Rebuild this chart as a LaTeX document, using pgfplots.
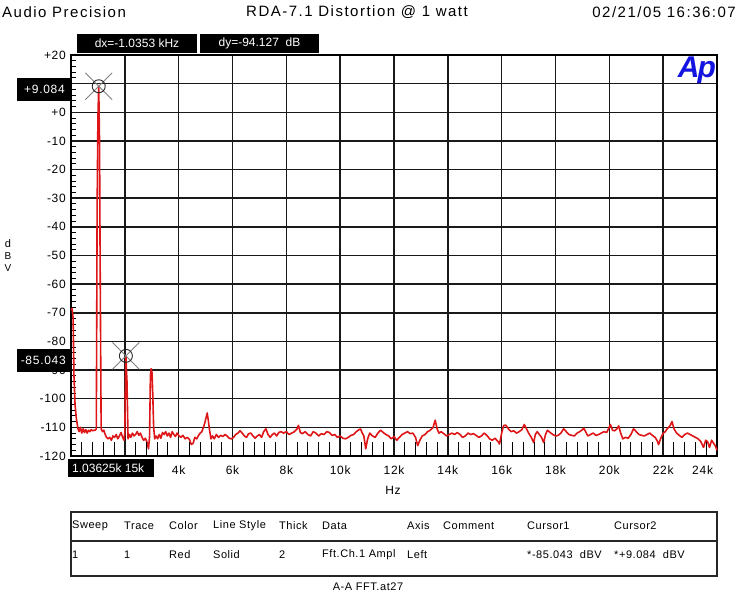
\documentclass[border=0pt]{standalone}
\usepackage{fontspec}
\setmainfont{Liberation Sans}
\newfontfamily\hdrfont[LetterSpace=10]{Liberation Sans}
\newfontfamily\tickfam[LetterSpace=6]{Liberation Sans}
\newfontfamily\tblfont[LetterSpace=5]{Liberation Sans}
\usepackage{pgfplots}
\pgfplotsset{compat=1.18}
\definecolor{trace}{RGB}{222,22,24}
\definecolor{apblue}{RGB}{20,20,225}

\pgfplotstableread{
f dbv
0 -69
0.04 -68.5
0.08 -72
0.11 -92
0.15 -102
0.2 -107
0.26 -110.5
0.3 -111.5
0.35 -110
0.4 -112
0.45 -110.5
0.5 -111.8
0.55 -110.8
0.6 -112
0.65 -111
0.7 -111.5
0.75 -110.8
0.8 -111.2
0.85 -111
0.9 -111
0.94 -110.5
0.955 -75
0.97 -34
1.0 -2
1.03 9.084
1.06 -10
1.08 -48
1.10 -80
1.12 -110.5
1.17 -111.5
1.22 -111
1.27 -112.5
1.32 -113.5
1.38 -114
1.44 -113.5
1.5 -114.5
1.56 -113
1.62 -113.5
1.68 -112.5
1.74 -114
1.8 -113
1.86 -111.8
1.92 -113.5
1.97 -114.5
2.0 -112
2.02 -95
2.04 -85.043
2.06 -90
2.08 -94
2.10 -104
2.12 -114
2.17 -112.5
2.22 -113.5
2.28 -112
2.34 -113
2.4 -112.5
2.46 -111.5
2.52 -112.8
2.58 -112
2.64 -113.5
2.7 -114.5
2.76 -113.8
2.82 -115
2.88 -117.5
2.92 -113
2.95 -92
2.98 -89.5
3.01 -91
3.04 -99
3.07 -110
3.11 -114
3.16 -113
3.22 -114
3.28 -112.5
3.34 -113.8
3.4 -111.8
3.46 -112.5
3.52 -111.5
3.58 -113
3.64 -112
3.7 -113.5
3.76 -111.5
3.82 -112.5
3.88 -113.2
3.94 -112
4.0 -112.8
4.08 -113.5
4.16 -112.8
4.24 -114
4.32 -113.5
4.4 -114.2
4.47 -116
4.54 -115.5
4.6 -113.5
4.67 -114
4.74 -112.8
4.8 -112
4.86 -111.5
4.92 -110
4.97 -108.5
5.02 -106.5
5.06 -105
5.1 -107.5
5.14 -110.5
5.2 -114
5.26 -113
5.32 -114
5.4 -112.5
5.48 -113.5
5.56 -112.8
5.64 -113.2
5.72 -112.5
5.8 -113
5.88 -113.8
5.96 -114
6.04 -113.5
6.12 -112.5
6.2 -112
6.28 -111.2
6.36 -112
6.44 -113
6.52 -113.5
6.6 -112.2
6.68 -112
6.76 -113
6.84 -113.8
6.92 -113
7.0 -112.5
7.08 -113.5
7.16 -111.5
7.24 -110.5
7.32 -112.5
7.4 -113.5
7.48 -112.5
7.56 -112
7.64 -113
7.72 -111.8
7.8 -111.5
7.9 -112
8.0 -111.5
8.1 -112.5
8.2 -112
8.3 -111.5
8.4 -110.5
8.45 -109.3
8.52 -111.8
8.6 -112.2
8.7 -111.5
8.8 -112.5
8.9 -113
9.0 -111.5
9.1 -112
9.2 -113
9.3 -112.2
9.4 -112.5
9.5 -111.5
9.6 -111.8
9.7 -112.8
9.8 -112.5
9.9 -113.5
10.0 -113
10.1 -113.8
10.2 -114
10.3 -113.5
10.4 -112.8
10.5 -112.5
10.6 -111.5
10.7 -110.8
10.76 -110.6
10.82 -112
10.88 -113
10.95 -117.5
11.02 -114
11.1 -112
11.2 -113
11.3 -113.5
11.4 -112
11.5 -111
11.6 -111.8
11.7 -112.5
11.8 -113
11.9 -114
12.0 -113.2
12.1 -114.5
12.2 -113.5
12.3 -112.5
12.4 -112
12.5 -111.5
12.6 -112.2
12.7 -112
12.8 -113.5
12.88 -116.4
12.96 -114.5
13.05 -113
13.15 -112.5
13.25 -111.5
13.35 -111
13.45 -110
13.53 -107.5
13.6 -110.5
13.67 -112
13.75 -111.5
13.85 -112.2
13.95 -113
14.05 -112.5
14.15 -112
14.25 -112.5
14.35 -111.8
14.45 -112.5
14.55 -113.5
14.65 -113
14.75 -112
14.85 -112.5
14.95 -112.2
15.05 -112.8
15.15 -113.5
15.25 -113
15.35 -112
15.45 -112.8
15.55 -114
15.65 -114.5
15.75 -113.8
15.85 -114.8
15.92 -115.8
16.0 -112
16.07 -109.4
16.15 -109.2
16.25 -110.5
16.35 -111.5
16.45 -111.2
16.55 -112
16.65 -111.5
16.75 -110.8
16.84 -109
16.92 -110.5
17.0 -112
17.1 -113.5
17.19 -115.3
17.25 -112.5
17.32 -111.5
17.4 -112.5
17.48 -113.5
17.56 -115.3
17.63 -112.5
17.7 -111
17.8 -111.8
17.9 -112.5
18.0 -113
18.1 -112.8
18.2 -112
18.3 -110.5
18.4 -111.5
18.5 -112.5
18.6 -112.8
18.7 -113
18.8 -112
18.9 -111.5
19.0 -110.8
19.05 -110.3
19.12 -111.5
19.2 -113
19.3 -112.5
19.4 -112
19.5 -112.8
19.6 -112.5
19.7 -112
19.8 -111.5
19.9 -111.8
19.97 -110.5
20.04 -109
20.12 -111
20.2 -111.2
20.28 -110.5
20.35 -109.5
20.42 -112
20.5 -114
20.6 -113.5
20.7 -113.8
20.8 -112.5
20.9 -110.5
21.0 -111.5
21.1 -112.5
21.2 -112.8
21.3 -113
21.4 -112.5
21.5 -112
21.6 -112.8
21.7 -113.5
21.77 -114.5
21.83 -116
21.9 -114
22.0 -112
22.08 -111.5
22.15 -110.5
22.25 -109.5
22.33 -108
22.4 -110.5
22.5 -112
22.6 -112.8
22.7 -113.5
22.8 -112.5
22.9 -112
23.0 -112.5
23.1 -113
23.2 -113.5
23.3 -114
23.4 -115
23.5 -117
23.58 -114.5
23.65 -115
23.72 -117
23.8 -114.5
23.87 -115.5
23.94 -116.5
24.0 -118
}\fftdata

\begin{document}
\begin{tikzpicture}
\path[use as bounding box] (0pt,0pt) rectangle (738pt,600pt);

% header line
\node[anchor=west,inner sep=0pt] at (2pt,588pt) {\hdrfont\fontsize{15}{17}\selectfont Audio Precision};
\node[inner sep=0pt] at (357pt,588pt) {\hdrfont\fontsize{15}{17}\selectfont RDA-7.1 Distortion @ 1 watt};
\node[anchor=east,inner sep=0pt] at (736pt,588pt) {\hdrfont\fontsize{15}{17}\selectfont 02/21/05 16:36:07};

\begin{axis}[
  at={(71pt,144pt)}, anchor=south west, scale only axis,
  width=646pt, height=401pt,
  xmin=0, xmax=24, ymin=-120, ymax=20,
  xtick={0,2,...,24},
  xticklabels={,,4k,6k,8k,10k,12k,14k,16k,18k,20k,22k,\makebox[0pt][r]{24k\hspace{4pt}}},
  ytick={-120,-110,...,20},
  yticklabels={-120,-110,-100,-90,-80,-70,-60,-50,-40,-30,-20,-10,+0,,+20},
  grid=major,
  major grid style={black!90, line width=1.5pt},
  axis line style={black, line width=1.6pt},
  tick pos=left, tick align=inside,
  major tick length=0pt,
  minor y tick num=4, minor tick length=5pt,
  minor tick style={black, line width=0.9pt},
  ticklabel style={font=\tickfam\fontsize{12}{14}\selectfont},
  yticklabel style={anchor=east, inner sep=0pt, xshift=-5pt},
  xticklabel style={anchor=north, inner sep=0pt, yshift=-10pt},
  clip=false,
]
\addplot[trace, line width=1.6pt, line join=round] table[x=f, y=dbv] {\fftdata};
\addplot[only marks, mark=x, mark size=19pt, black!50, line width=0.9pt] coordinates {(1.03,9.084) (2.04,-85.043)};
\addplot[only marks, mark=o, mark size=6.5pt, black!85, line width=0.9pt] coordinates {(1.03,9.084) (2.04,-85.043)};
\end{axis}

% bottom minor ticks (longer than the left ones)
\begin{axis}[
  at={(71pt,144pt)}, anchor=south west, scale only axis,
  width=646pt, height=401pt,
  xmin=0, xmax=24, ymin=-120, ymax=20,
  axis line style={draw=none},
  ytick=\empty,
  xtick={0,2,...,24}, xticklabels={},
  minor x tick num=4,
  tick pos=left, tick align=inside,
  major tick length=0pt, minor tick length=14pt,
  minor tick style={black, line width=0.9pt},
]
\end{axis}

% cursor readouts
\fill[black] (77pt,547pt) rectangle (197pt,566pt);
\node[text=white,inner sep=0pt] at (137pt,556.5pt) {\fontsize{12}{14}\selectfont dx=-1.0353 kHz};
\fill[black] (200pt,547pt) rectangle (319pt,566pt);
\node[text=white,inner sep=0pt] at (259.5pt,556.5pt) {\fontsize{12}{14}\selectfont dy=-94.127\ \ dB};
\fill[black] (17pt,499pt) rectangle (70pt,522pt);
\node[text=white,anchor=east,inner sep=0pt] at (65pt,510.5pt) {\tickfam\fontsize{12}{14}\selectfont +9.084};
\fill[black] (17pt,228pt) rectangle (71pt,251pt);
\node[text=white,anchor=east,inner sep=0pt] at (66pt,239.5pt) {\tickfam\fontsize{12}{14}\selectfont -85.043};
\fill[black] (68pt,123pt) rectangle (154pt,141pt);
\node[text=white,anchor=west,inner sep=0pt] at (72pt,132pt) {\fontsize{12}{14}\selectfont 1.03625k 15k};

% logo
\node[anchor=north east,inner sep=0pt,text=apblue] at (716pt,543pt) {\fontsize{30}{32}\selectfont\bfseries\itshape A\kern-2pt p};

% axis titles
\node[inner sep=0pt] at (393pt,110pt) {\tickfam\fontsize{12}{14}\selectfont Hz};
\node[inner sep=0pt,align=center] at (8pt,344pt) {\tickfam\fontsize{11}{16}\selectfont d\\B\\V};

% legend table
\draw[black!85, line width=1.3pt] (71pt,24pt) rectangle (717pt,88pt);
\draw[black!85, line width=1.3pt] (71pt,59pt) -- (717pt,59pt);
\begin{scope}[every node/.style={anchor=west,inner sep=0pt,font=\tblfont\fontsize{11}{13}\selectfont}]
\node at (72pt,74pt) {Sweep};
\node at (124pt,74pt) {Trace};
\node at (169pt,74pt) {Color};
\node at (213pt,74pt) {Line Style};
\node at (279pt,74pt) {Thick};
\node at (322pt,74pt) {Data};
\node at (407pt,74pt) {Axis};
\node at (443pt,74pt) {Comment};
\node at (527pt,74pt) {Cursor1};
\node at (614pt,74pt) {Cursor2};
\node at (72pt,45pt) {1};
\node at (124pt,45pt) {1};
\node at (169pt,45pt) {Red};
\node at (213pt,45pt) {Solid};
\node at (279pt,45pt) {2};
\node at (322pt,45pt) {Fft.Ch.1 Ampl};
\node at (407pt,45pt) {Left};
\node at (527pt,45pt) {*-85.043\ \ dBV};
\node at (614pt,45pt) {*+9.084\ \ dBV};
\end{scope}
\node[inner sep=0pt] at (368pt,13pt) {\tblfont\fontsize{11}{13}\selectfont A-A FFT.at27};
\end{tikzpicture}
\end{document}
